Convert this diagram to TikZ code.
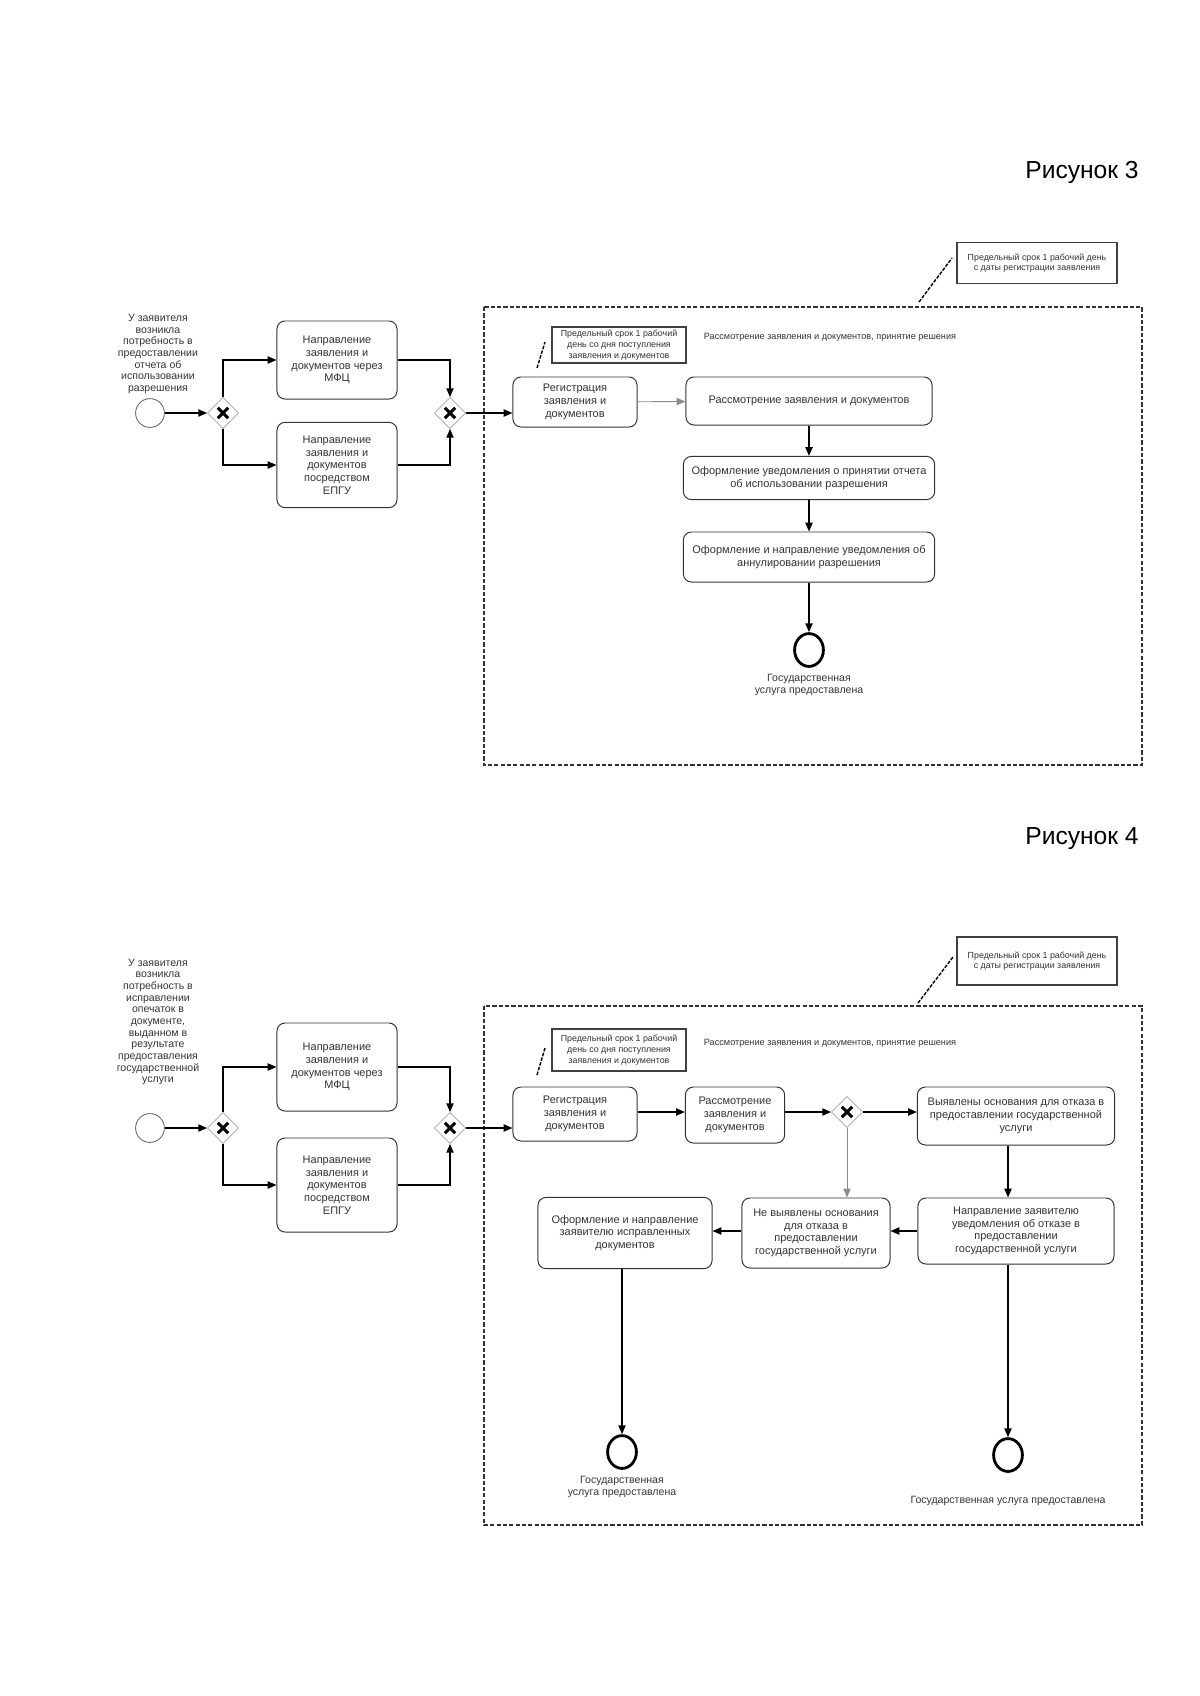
\documentclass[tikz,border=0pt]{standalone}
\usepackage{fontspec}
\setmainfont{Liberation Sans}
\usetikzlibrary{shapes.geometric, arrows.meta, positioning}

\begin{document}
\begin{tikzpicture}[x=0.025cm, y=-0.025cm, >={Triangle[length=2.2mm, width=1.8mm]},
  task/.style={rectangle, rounded corners=2mm, draw=black!80, line width=0.7pt, fill=white,
    align=center, text=black!80, font=\fontsize{7.8}{9}\selectfont, minimum width=3cm, inner sep=2pt},
  gate/.style={diamond, draw=black!45, fill=white, minimum size=0.78cm, inner sep=0pt,
    path picture={\draw[line width=2.2pt, black]
      ([shift={(-0.13cm,-0.13cm)}]path picture bounding box.center) -- ([shift={(0.13cm,0.13cm)}]path picture bounding box.center)
      ([shift={(-0.13cm,0.13cm)}]path picture bounding box.center) -- ([shift={(0.13cm,-0.13cm)}]path picture bounding box.center);}},
  start/.style={circle, draw=black!60, line width=0.6pt, minimum size=0.72cm, inner sep=0pt},
  finish/.style={ellipse, draw=black, line width=2pt, minimum width=0.72cm, minimum height=0.82cm, inner sep=0pt},
  lbl/.style={align=center, text=black!80, font=\fontsize{7.5}{8.3}\selectfont},
  note/.style={rectangle, draw=black!75, line width=0.8pt, fill=white, align=center, text=black!80,
    font=\fontsize{6.3}{7.6}\selectfont, inner sep=1pt},
  lane/.style={text=black!80, font=\fontsize{6.5}{7.5}\selectfont},
  title/.style={font=\fontsize{17.5}{20}\selectfont},
  flow/.style={->, line width=1pt, black},
  gflow/.style={->, line width=0.6pt, black!45},
  pool/.style={draw=black!80, line width=0.8pt, dash pattern=on 3pt off 1.5pt},
  assoc/.style={line width=1pt, dash pattern=on 2.5pt off 1pt}]

  \useasboundingbox (0,0) rectangle (1200,1696);

  % Рисунок 3
  \node (fig3) [title] at (1082,172) {Рисунок 3};
  \node (need3) [lbl] at (158,354) {У заявителя\\возникла\\потребность в\\предоставлении\\отчета об\\использовании\\разрешения};
  \node (start3) [start] at (150,413) {};
  \node (g31) [gate] at (223,413) {};
  \node (mfc3) [task, minimum height=1.95cm] at (337,360) {Направление\\заявления и\\документов через\\МФЦ};
  \node (epgu3) [task, minimum height=2.13cm] at (337,465) {Направление\\заявления и\\документов\\посредством\\ЕПГУ};
  \node (g32) [gate] at (450,413) {};

  \draw[pool] (484,307) rectangle (1142,765);
  \node (note3a) [note, minimum width=4cm, minimum height=1.03cm] at (1037,263) {Предельный срок 1 рабочий день\\с даты регистрации заявления};
  \coordinate (a3a) at (919,302);
  \coordinate (b3a) at (952,258);
  \draw[assoc] (a3a) -- (b3a);
  \node (note3b) [note, minimum width=3.35cm, minimum height=0.9cm] at (619,345) {Предельный срок 1 рабочий\\день со дня поступления\\заявления и документов};
  \coordinate (a3b) at (537,368);
  \coordinate (b3b) at (545,342);
  \draw[assoc] (a3b) -- (b3b);
  \node (lane3) [lane] at (830,337) {Рассмотрение заявления и документов, принятие решения};

  \node (reg3) [task, minimum width=3.1cm, minimum height=1.25cm] at (575,402) {Регистрация\\заявления и\\документов};
  \node (rev3) [task, minimum width=6.15cm, minimum height=1.2cm] at (809,401) {Рассмотрение заявления и документов};
  \node (acc3) [task, minimum width=6.28cm, minimum height=1.08cm] at (809,478) {Оформление уведомления о принятии отчета\\об использовании разрешения};
  \node (ann3) [task, minimum width=6.28cm, minimum height=1.25cm] at (809,557) {Оформление и направление уведомления об\\аннулировании разрешения};
  \node (end3) [finish] at (809,650) {};
  \node (end3txt) [lbl, below=1pt of end3] {Государственная\\услуга предоставлена};

  \draw[flow] (start3) -- (g31);
  \draw[flow] (g31) |- (mfc3);
  \draw[flow] (g31) |- (epgu3);
  \draw[flow] (mfc3) -| (g32);
  \draw[flow] (epgu3) -| (g32);
  \draw[flow] (g32) -- (g32 -| reg3.west);
  \draw[gflow] (reg3) -- (rev3);
  \draw[flow] (rev3) -- (acc3);
  \draw[flow] (acc3) -- (ann3);
  \draw[flow] (ann3) -- (end3);

  % Рисунок 4
  \node (fig4) [title] at (1082,839) {Рисунок 4};
  \node (need4) [lbl] at (158,1022) {У заявителя\\возникла\\потребность в\\исправлении\\опечаток в\\документе,\\выданном в\\результате\\предоставления\\государственной\\услуги};
  \node (start4) [start] at (150,1128) {};
  \node (g41) [gate] at (223,1128) {};
  \node (mfc4) [task, minimum height=2.2cm] at (337,1067) {Направление\\заявления и\\документов через\\МФЦ};
  \node (epgu4) [task, minimum height=2.35cm] at (337,1185) {Направление\\заявления и\\документов\\посредством\\ЕПГУ};
  \node (g42) [gate] at (450,1128) {};

  \draw[pool] (484,1006) rectangle (1142,1525);
  \node (note4a) [note, minimum width=4cm, minimum height=1.2cm] at (1037,961) {Предельный срок 1 рабочий день\\с даты регистрации заявления};
  \coordinate (a4a) at (918,1003);
  \coordinate (b4a) at (953,957);
  \draw[assoc] (a4a) -- (b4a);
  \node (note4b) [note, minimum width=3.35cm, minimum height=1.05cm] at (619,1050) {Предельный срок 1 рабочий\\день со дня поступления\\заявления и документов};
  \coordinate (a4b) at (537,1075);
  \coordinate (b4b) at (545,1048);
  \draw[assoc] (a4b) -- (b4b);
  \node (lane4) [lane] at (830,1043) {Рассмотрение заявления и документов, принятие решения};

  \node (reg4) [task, minimum width=3.1cm, minimum height=1.35cm] at (575,1114) {Регистрация\\заявления и\\документов};
  \node (rev4) [task, minimum width=2.48cm, minimum height=1.4cm] at (735,1115) {Рассмотрение\\заявления и\\документов};
  \node (g43) [gate] at (847,1112) {};
  \node (vyy4) [task, minimum width=4.93cm, minimum height=1.45cm] at (1016,1116) {Выявлены основания для отказа в\\предоставлении государственной\\услуги};
  \node (napr4) [task, minimum width=4.9cm, minimum height=1.65cm] at (1016,1231) {Направление заявителю\\уведомления об отказе в\\предоставлении\\государственной услуги};
  \node (ne4) [task, minimum width=3.7cm, minimum height=1.75cm] at (816,1233) {Не выявлены основания\\для отказа в\\предоставлении\\государственной услуги};
  \node (fix4) [task, minimum width=4.35cm, minimum height=1.78cm] at (625,1233) {Оформление и направление\\заявителю исправленных\\документов};
  \node (end4a) [finish] at (622,1452) {};
  \node (end4atxt) [lbl, below=1pt of end4a] {Государственная\\услуга предоставлена};
  \node (end4b) [finish] at (1008,1455) {};
  \node (end4btxt) [lbl, below=13pt of end4b] {Государственная услуга предоставлена};

  \draw[flow] (start4) -- (g41);
  \draw[flow] (g41) |- (mfc4);
  \draw[flow] (g41) |- (epgu4);
  \draw[flow] (mfc4) -| (g42);
  \draw[flow] (epgu4) -| (g42);
  \draw[flow] (g42) -- (g42 -| reg4.west);
  \draw[flow] (reg4.east |- g43) -- (rev4.west |- g43);
  \draw[flow] (rev4.east |- g43) -- (g43);
  \draw[flow] (g43) -- (g43 -| vyy4.west);
  \draw[gflow] (g43) -- (g43 |- ne4.north);
  \draw[flow] (vyy4.south -| end4b) -- (napr4.north -| end4b);
  \draw[flow] (napr4.west) -- (napr4.west -| ne4.east);
  \draw[flow] (ne4.west |- napr4.west) -- (fix4.east |- napr4.west);
  \draw[flow] (fix4.south -| end4a) -- (end4a);
  \draw[flow] (napr4.south -| end4b) -- (end4b);
\end{tikzpicture}
\end{document}
